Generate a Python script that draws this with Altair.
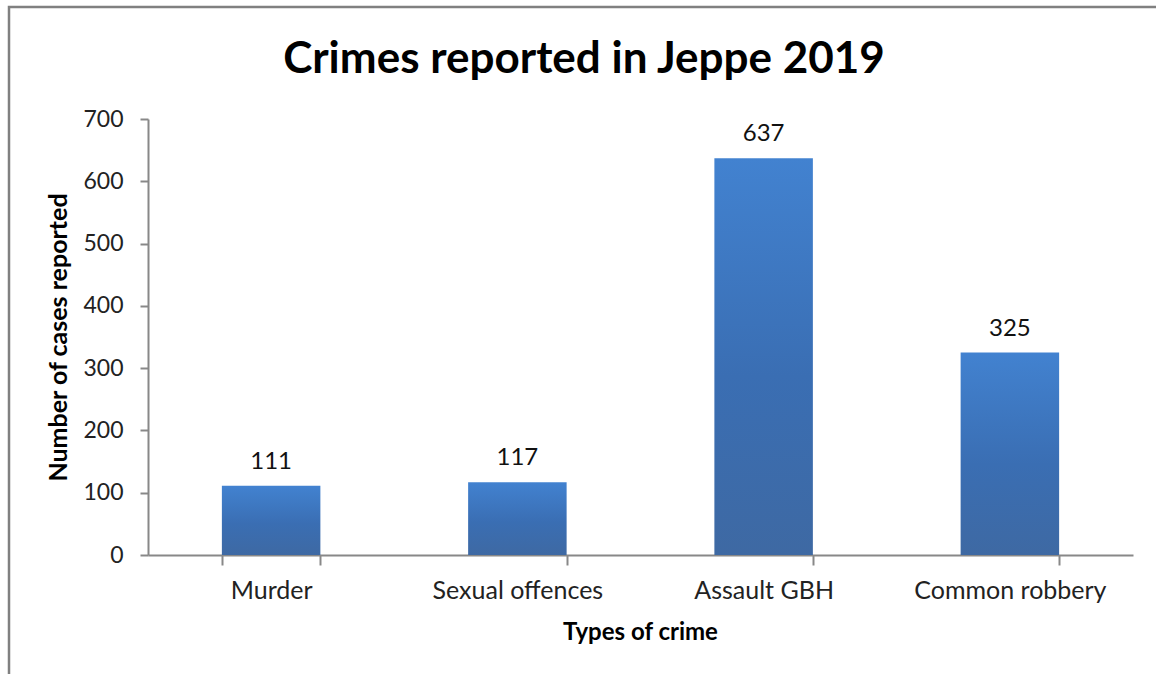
import altair as alt
import pandas as pd

categories = ["Murder", "Sexual offences", "Assault GBH", "Common robbery"]
values = [111, 117, 637, 325]
chart_title = "Crimes reported in Jeppe 2019"

df = pd.DataFrame({"crime": categories, "cases": values})

FONT = "Lato"
W, H = 985, 436
PL, PT = 148, 119

base = alt.Chart(df)

x_enc = alt.X("crime:N", sort=categories, title="Types of crime",
              scale=alt.Scale(paddingInner=0.6, paddingOuter=0.3),
              axis=alt.Axis(labelAngle=0, labelFontSize=25, labelFont=FONT, labelColor="#222",
                            labelPadding=13, labelLimit=400, tickBand="extent", tickSize=10,
                            tickColor="#888", tickWidth=2, domainColor="#888", domainWidth=2,
                            titleFontSize=24, titleFont=FONT, titleFontWeight="bold",
                            titlePadding=17, titleX=492, titleColor="#000"))
y_enc = alt.Y("cases:Q", title="Number of cases reported",
              scale=alt.Scale(domain=[0, 700], nice=False),
              axis=alt.Axis(values=[0, 100, 200, 300, 400, 500, 600, 700], grid=False,
                            labelFontSize=23, labelFont=FONT, labelColor="#222", labelPadding=17,
                            tickSize=8, tickColor="#888", tickWidth=2, domainColor="#888",
                            domainWidth=2, titleFontSize=25, titleFont=FONT,
                            titleFontWeight="bold", titlePadding=11, titleColor="#000"))

bars = base.mark_bar(
    color=alt.Gradient(gradient="linear",
                       stops=[alt.GradientStop(color="#4282D0", offset=0),
                              alt.GradientStop(color="#3A6EB3", offset=0.55),
                              alt.GradientStop(color="#3E69A3", offset=1)],
                       x1=0, x2=0, y1=0, y2=1)
).encode(x=x_enc, y=y_enc)

labels = base.mark_text(baseline="bottom", dy=-12, fontSize=24, font=FONT, color="#111").encode(
    x=alt.X("crime:N", sort=categories), y="cases:Q", text="cases:Q")

one = pd.DataFrame({"t": [chart_title]})

border = alt.Chart(one).mark_rect(
    fill=None, stroke="#808080", strokeWidth=2.5
).encode(x=alt.value(9 - PL), x2=alt.value(1156 - PL + 20),
         y=alt.value(7 - PT), y2=alt.value(674 - PT + 20))

title = alt.Chart(one).mark_text(
    fontSize=44, font=FONT, fontWeight="bold", color="#000", align="center",
    baseline="alphabetic"
).encode(text="t:N", x=alt.value(584 - PL), y=alt.value(73 - PT))

chart = alt.layer(border, bars, labels, title).properties(
    width=W, height=H,
    autosize=alt.AutoSizeParams(type="none"),
    padding={"left": PL, "top": PT, "right": 1156 - PL - W, "bottom": 674 - PT - H},
    background="white",
).configure_view(stroke=None)

chart.save("out.html", embed_options={"renderer": "svg", "actions": False})
